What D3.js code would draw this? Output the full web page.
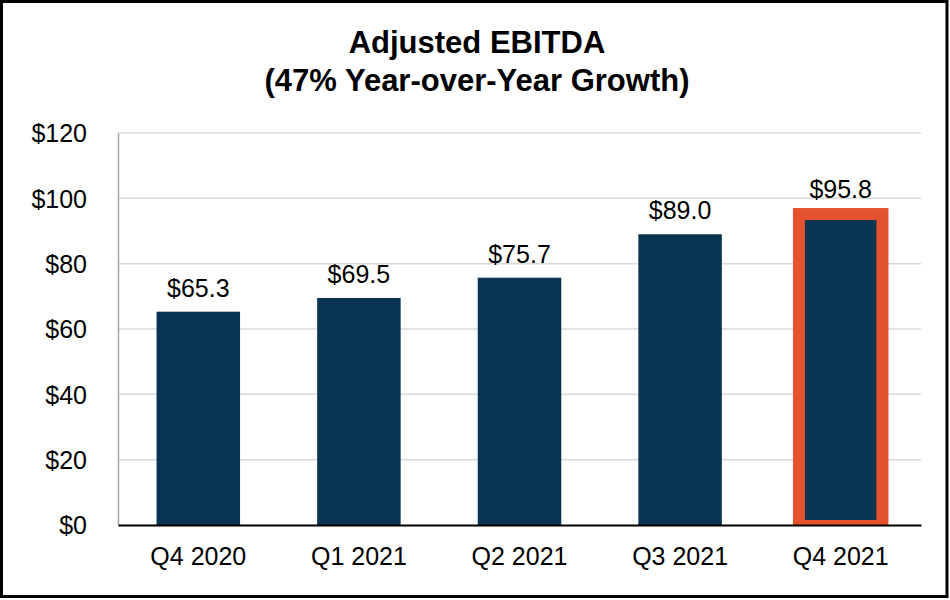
<!DOCTYPE html>
<html>
<head>
<meta charset="utf-8">
<script src="https://cdn.jsdelivr.net/npm/d3@7"></script>
<style>
  body { margin: 0; background: #fff; }
  text { font-family: "Liberation Sans", Arial, sans-serif; fill: #000; }
</style>
</head>
<body>
<div class="canvas"></div>
<script>
// chart data
const quarters = ['Q4 2020', 'Q1 2021', 'Q2 2021', 'Q3 2021', 'Q4 2021'];
const ebitda = [65.3, 69.5, 75.7, 89.0, 95.8];
const yTicks = [0, 20, 40, 60, 80, 100, 120];
const highlight = 'Q4 2021';

const dims = { width: 950, height: 600 };
const plot = { left: 118, right: 921, top: 133, bottom: 525 };

const svg = d3.select('.canvas')
  .append('svg')
  .attr('width', dims.width)
  .attr('height', dims.height);

// outer frame
svg.append('rect')
  .attr('x', 1.5).attr('y', 1.5)
  .attr('width', dims.width - 4.5)
  .attr('height', dims.height - 5)
  .attr('fill', 'none')
  .attr('stroke', '#000')
  .attr('stroke-width', 3);

// title
const title = svg.append('text')
  .attr('text-anchor', 'middle')
  .attr('font-size', 31)
  .attr('font-weight', 'bold');
title.append('tspan').attr('x', 477).attr('y', 53).text('Adjusted EBITDA');
title.append('tspan').attr('x', 477).attr('y', 91).text('(47% Year-over-Year Growth)');

const x = d3.scaleBand()
  .domain(quarters)
  .range([plot.left, plot.right])
  .paddingInner(0.48)
  .paddingOuter(0.24);

const y = d3.scaleLinear()
  .domain([0, 120])
  .range([plot.bottom, plot.top]);

// gridlines
svg.append('g')
  .selectAll('line')
  .data(yTicks.filter(t => t > 0))
  .join('line')
    .attr('x1', plot.left).attr('x2', plot.right)
    .attr('y1', d => y(d)).attr('y2', d => y(d))
    .attr('stroke', '#d9d9d9')
    .attr('stroke-width', 1.5);

// y axis
const yAxis = svg.append('g')
  .attr('transform', `translate(${plot.left},0)`)
  .call(d3.axisLeft(y).tickValues(yTicks).tickSize(0).tickPadding(31).tickFormat(d => '$' + d));
yAxis.select('.domain').attr('stroke', '#a6a6a6').attr('stroke-width', 1.5);
yAxis.selectAll('text').attr('font-size', 25).attr('dy', '0.35em');

// bars
const data = quarters.map((q, i) => ({ q, v: ebitda[i] }));

const hl = data.filter(d => d.q === highlight);
svg.append('g')
  .selectAll('rect')
  .data(hl)
  .join('rect')
    .attr('x', d => x(d.q) - 6)
    .attr('y', d => y(d.v) - 4)
    .attr('width', x.bandwidth() + 12)
    .attr('height', d => y(0) - y(d.v) + 4)
    .attr('fill', '#e4522e');

svg.append('g')
  .selectAll('rect')
  .data(data)
  .join('rect')
    .attr('x', d => d.q === highlight ? x(d.q) + 6 : x(d.q))
    .attr('y', d => d.q === highlight ? y(d.v) + 8 : y(d.v))
    .attr('width', d => d.q === highlight ? x.bandwidth() - 12 : x.bandwidth())
    .attr('height', d => d.q === highlight ? y(0) - y(d.v) - 13 : y(0) - y(d.v))
    .attr('fill', '#0a3552');

// value labels
svg.append('g')
  .selectAll('text')
  .data(data)
  .join('text')
    .attr('x', d => x(d.q) + x.bandwidth() / 2)
    .attr('y', d => y(d.v) - (d.q === highlight ? 14 : 15))
    .attr('text-anchor', 'middle')
    .attr('font-size', 25)
    .text(d => '$' + d.v.toFixed(1));

// x axis
const xAxis = svg.append('g')
  .attr('transform', `translate(0,${plot.bottom})`)
  .call(d3.axisBottom(x).tickSize(0).tickPadding(22));
xAxis.select('.domain').attr('stroke', '#000').attr('stroke-width', 2);
xAxis.selectAll('text').attr('font-size', 25);
</script>
</body>
</html>
